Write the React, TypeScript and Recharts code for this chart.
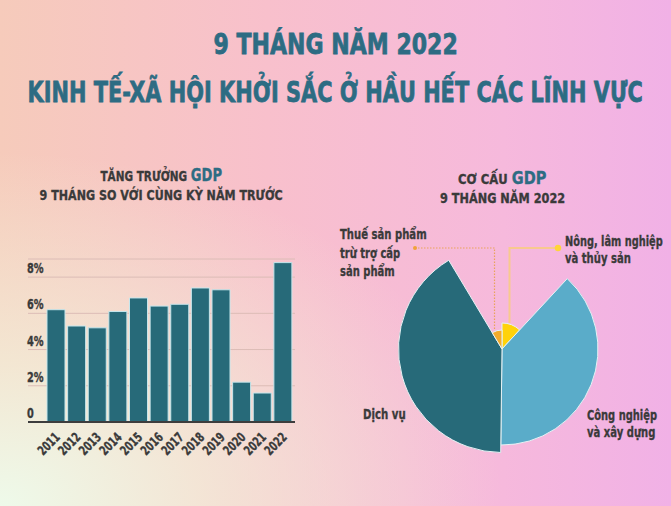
import React, { useLayoutEffect, useRef, useState } from "react";
import { BarChart, Bar, XAxis, YAxis, CartesianGrid, PieChart, Pie, Cell } from "recharts";

const years = ["2011","2012","2013","2014","2015","2016","2017","2018","2019","2020","2021","2022"];
const growth = [6.2, 5.3, 5.2, 6.1, 6.85, 6.4, 6.5, 7.4, 7.3, 2.2, 1.6, 8.8];
const yTicks = [0, 2, 4, 6, 8];
const yTickLabels = ["0", "2%", "4%", "6%", "8%"];

const sectors = ["Nông, lâm nghiệp và thủy sản", "Công nghiệp và xây dựng", "Dịch vụ", "Thuế sản phẩm trừ trợ cấp sản phẩm"];
const shares = [11.9, 38.3, 41.2, 8.6];

const barData = years.map((y, i) => ({ year: y, value: growth[i] }));
const pieData = sectors.map((s, i) => ({ name: s, value: shares[i] }));

const FONT = "'DejaVu Sans', sans-serif";
const TEAL = "#2d6c83";
const DARK = "#3a3a3a";
const sliceColors = ["#ffd20a", "#5aacc9", "#276a79", "#f2ab2c"];
const sliceRadius = [26, 96, 103.5, 19];

function Fit({ w, center, children }: { w: number; center?: boolean; children: React.ReactNode }) {
  const ref = useRef<HTMLSpanElement>(null);
  const [s, setS] = useState(1);
  useLayoutEffect(() => {
    if (ref.current) {
      const ow = ref.current.offsetWidth;
      if (ow > 0) setS(w / ow);
    }
  }, [w]);
  return (
    <span
      ref={ref}
      style={{
        display: "inline-block",
        flex: "none",
        whiteSpace: "nowrap",
        transform: `scaleX(${s})`,
        transformOrigin: center ? "50% 50%" : "0 50%",
      }}
    >
      {children}
    </span>
  );
}

const YTick = (props: any) => {
  const { x, y, payload } = props;
  const idx = yTicks.indexOf(payload.value);
  const ax = x - 1;
  const ay = y - 4;
  return (
    <text transform={`translate(${ax},${ay}) scale(0.7,1)`} x={0} y={0} textAnchor="start" fontFamily={FONT} fontWeight="bold" fontSize={14} fill={DARK} stroke={DARK} strokeWidth={0.35}>
      {yTickLabels[idx]}
    </text>
  );
};

const XTick = (props: any) => {
  const { x, y, payload } = props;
  const ax = x + 5;
  const ay = y + 16;
  return (
    <text transform={`translate(${ax},${ay}) rotate(-45) scale(0.7,1)`} x={0} y={0} textAnchor="end" fontFamily={FONT} fontWeight="bold" fontSize={13} fill={DARK} stroke={DARK} strokeWidth={0.35}>
      {payload.value}
    </text>
  );
};

const leader = (i: number) => (p: any) => {
  if (p.index !== i) return null;
  const { cx, cy, outerRadius } = p;
  if (i === 3) {
    const lx = cx - 7.5;
    return (
      <g>
        <polyline points={`${cx - 87},18 ${lx},18 ${lx},${cy - outerRadius}`} fill="none" stroke="#e9a35a" strokeWidth={1.2} strokeDasharray="1.5 1.5" />
        <circle cx={cx - 87} cy={18} r={2} fill="#f0a23a" />
      </g>
    );
  }
  if (i === 0) {
    const lx = cx + 7.5;
    return (
      <g>
        <polyline points={`${lx},${cy - outerRadius} ${lx},18 ${cx + 56},18`} fill="none" stroke="#f8c98e" strokeWidth={2} />
        <circle cx={cx + 56} cy={18} r={3.2} fill="#ffd43a" />
      </g>
    );
  }
  return null;
};

const labelStyle: React.CSSProperties = { position: "absolute", color: DARK, fontWeight: "bold", fontSize: 14, WebkitTextStroke: "0.35px currentColor" };
const centerRow = (left: number, width: number, top: number, size: number, lh: number, color: string, stroke: number): React.CSSProperties => ({
  position: "absolute",
  left,
  width,
  top,
  display: "flex",
  justifyContent: "center",
  color,
  fontWeight: "bold",
  fontSize: size,
  lineHeight: `${lh}px`,
  WebkitTextStroke: `${stroke}px currentColor`,
});

export default function App() {
  return (
    <div
      style={{
        position: "absolute",
        left: 0,
        top: 0,
        width: 671,
        height: 506,
        overflow: "hidden",
        fontFamily: FONT,
        background:
          "radial-gradient(ellipse 75% 70% at 0% 100%, rgba(238,250,234,1) 0%, rgba(242,240,218,0.75) 40%, rgba(244,225,205,0) 100%), linear-gradient(90deg, #f6cbbb 0%, #f8c0cc 40%, #f6b9dc 75%, #f1b1e6 100%)",
      }}
    >
      <div style={centerRow(0, 671, 26, 29, 36, TEAL, 0.8)}>
        <Fit w={244} center>9 THÁNG NĂM 2022</Fit>
      </div>
      <div style={centerRow(0, 671, 74, 29, 36, TEAL, 0.8)}>
        <Fit w={615} center>KINH TẾ-XÃ HỘI KHỞI SẮC Ở HẦU HẾT CÁC LĨNH VỰC</Fit>
      </div>

      <div style={centerRow(0, 322, 163, 14, 24, DARK, 0.35)}>
        <Fit w={122} center>TĂNG TRƯỞNG <span style={{ color: TEAL, fontSize: 17.5 }}>GDP</span></Fit>
      </div>
      <div style={centerRow(0, 322, 185, 14, 20, DARK, 0.35)}>
        <Fit w={243} center>9 THÁNG SO VỚI CÙNG KỲ NĂM TRƯỚC</Fit>
      </div>

      <div style={centerRow(340, 325, 166, 14, 24, DARK, 0.35)}>
        <Fit w={88} center>CƠ CẤU <span style={{ color: TEAL, fontSize: 17.5 }}>GDP</span></Fit>
      </div>
      <div style={centerRow(340, 325, 188, 14, 20, DARK, 0.35)}>
        <Fit w={125} center>9 THÁNG NĂM 2022</Fit>
      </div>

      <div style={{ position: "absolute", left: 0, top: 240 }}>
        <BarChart width={320} height={240} data={barData} margin={{ top: 19, right: 25, bottom: 18, left: 27 }} barCategoryGap={1.5}>
          <CartesianGrid horizontal vertical={false} stroke="#dcbcb6" strokeWidth={1} />
          <YAxis domain={[0, 9]} ticks={yTicks} width={1} axisLine={false} tickLine={false} tickSize={0} tickMargin={0} tick={<YTick />} interval={0} />
          <XAxis dataKey="year" height={40} padding={{ left: 17.5, right: 2 }} axisLine={{ stroke: "#3d3d3d", strokeWidth: 2 }} tickLine={false} tickSize={0} tickMargin={0} tick={<XTick />} interval={0} />
          <Bar dataKey="value" fill="#276a79" stroke="#c6e6ec" strokeWidth={1} isAnimationActive={false} />
        </BarChart>
      </div>

      <div style={{ position: "absolute", left: 330, top: 230 }}>
        <PieChart width={341} height={276} margin={{ top: 0, right: 0, bottom: 0, left: 0 }}>
          {sliceRadius.map((r, i) => (
            <Pie
              key={i}
              data={pieData}
              dataKey="value"
              nameKey="name"
              cx={172}
              cy={119}
              innerRadius={0}
              outerRadius={r}
              startAngle={90}
              endAngle={-270}
              isAnimationActive={false}
              label={leader(i)}
              labelLine={false}
            >
              {pieData.map((d, j) => (
                <Cell key={j} fill={j === i ? sliceColors[j] : "none"} stroke={j === i ? "#e6f2f4" : "none"} strokeWidth={1} />
              ))}
            </Pie>
          ))}
        </PieChart>
      </div>

      <div style={{ ...labelStyle, left: 340, top: 225, lineHeight: "18.5px" }}>
        <div><Fit w={87}>Thuế sản phẩm</Fit></div>
        <div><Fit w={60}>trừ trợ cấp</Fit></div>
        <div><Fit w={55}>sản phẩm</Fit></div>
      </div>
      <div style={{ ...labelStyle, left: 565, top: 233, lineHeight: "17px" }}>
        <div><Fit w={98}>Nông, lâm nghiệp</Fit></div>
        <div><Fit w={66}>và thủy sản</Fit></div>
      </div>
      <div style={{ ...labelStyle, left: 363, top: 405, lineHeight: "18px" }}>
        <Fit w={43}>Dịch vụ</Fit>
      </div>
      <div style={{ ...labelStyle, left: 587, top: 407, lineHeight: "17px" }}>
        <div><Fit w={70}>Công nghiệp</Fit></div>
        <div><Fit w={68}>và xây dựng</Fit></div>
      </div>
    </div>
  );
}
